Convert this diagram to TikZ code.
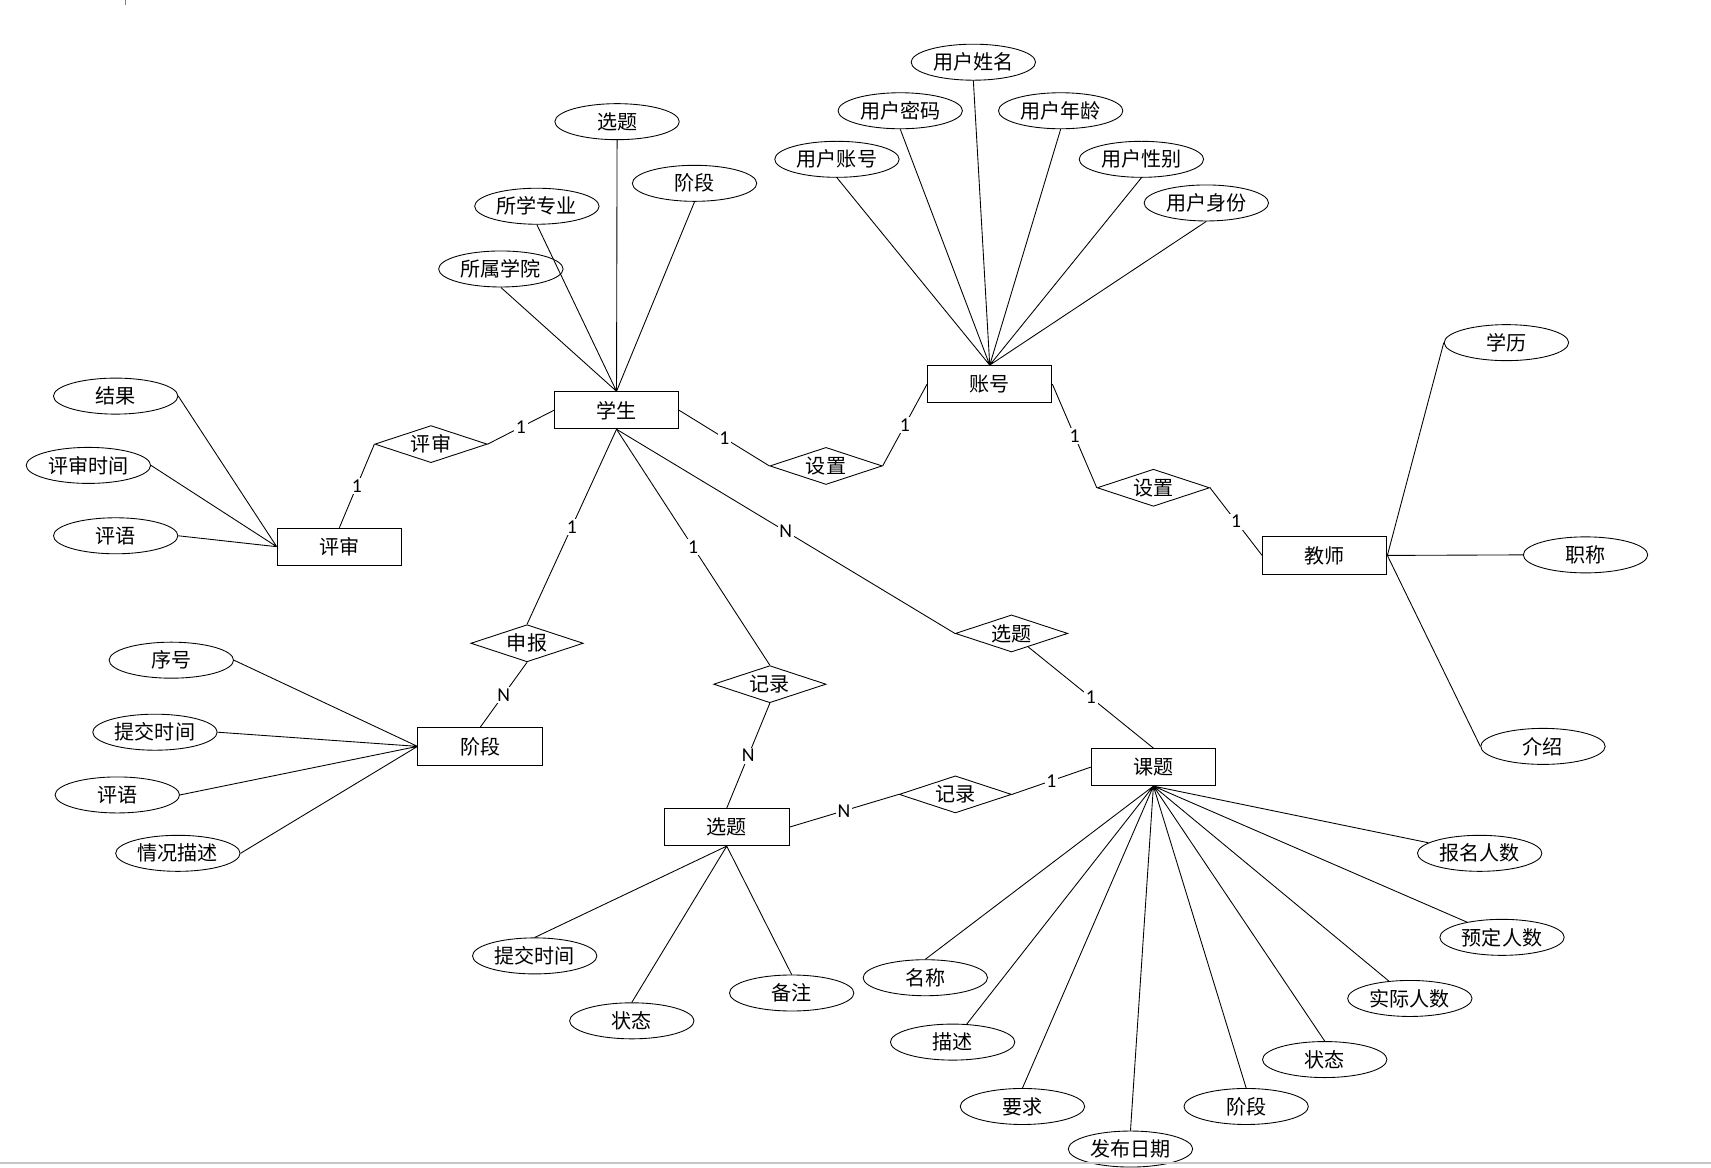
\documentclass[tikz,border=0pt]{standalone}
\usepackage{fontspec}
\setmainfont{Carlito}
\newfontfamily\cjk{Noto Sans CJK SC}
\usetikzlibrary{shapes.geometric}

\begin{document}
\begin{tikzpicture}
  [x=0.5pt,y=-0.5pt,
   entity/.style={draw,rectangle,minimum width=57pt,minimum height=17pt,
     inner sep=1pt,font=\cjk\fontsize{9.2}{10}\selectfont},
   attr/.style={draw,ellipse,minimum width=57pt,minimum height=16.5pt,
     inner sep=0pt,font=\cjk\fontsize{9.2}{10}\selectfont},
   rel/.style={draw,diamond,aspect=3,minimum width=51.5pt,minimum height=17pt,
     inner sep=0pt,font=\cjk\fontsize{9.2}{10}\selectfont},
   card/.style={fill=white,inner sep=0.8pt,font=\fontsize{9}{10}\selectfont}]
  \useasboundingbox (0,0) rectangle (1568,1070);
  % entities
  \node[entity] (xuesheng) at (565,376) {学生};
  \node[entity] (pingshen) at (311,501) {评审};
  \node[entity] (zhanghao) at (907,352) {账号};
  \node[entity] (jiaoshi) at (1214,509) {教师};
  \node[entity] (jieduan) at (440,684) {阶段};
  \node[entity] (xuanti) at (666,758) {选题};
  \node[entity] (keti) at (1057,703) {课题};
  % relationships
  \node[rel] (r-pingshen) at (395,407) {评审};
  \node[rel] (r-shezhi1) at (757,427) {设置};
  \node[rel] (r-shezhi2) at (1057,447) {设置};
  \node[rel] (r-shenbao) at (483,589.5) {申报};
  \node[rel] (r-jilu1) at (705.5,627) {记录};
  \node[rel] (r-xuanti) at (927,580.5) {选题};
  \node[rel] (r-jilu2) at (875.5,728) {记录};
  % attributes of xuesheng
  \node[attr] (xs-xuanti) at (565.5,111.5) {选题};
  \node[attr] (xs-jieduan) at (636.5,168) {阶段};
  \node[attr] (xs-zhuanye) at (492,189) {所学专业};
  \node[attr] (xs-xueyuan) at (459,246.5) {所属学院};
  % attributes of zhanghao
  \node[attr] (zh-xingming) at (892,57) {用户姓名};
  \node[attr] (zh-mima) at (825,101.5) {用户密码};
  \node[attr] (zh-nianling) at (972,101.5) {用户年龄};
  \node[attr] (zh-zhanghao) at (767,146) {用户账号};
  \node[attr] (zh-xingbie) at (1046,146) {用户性别};
  \node[attr] (zh-shenfen) at (1105.5,186) {用户身份};
  % attributes of pingshen
  \node[attr] (ps-jieguo) at (106,363) {结果};
  \node[attr] (ps-shijian) at (81,426.5) {评审时间};
  \node[attr] (ps-pingyu) at (106,491) {评语};
  % attributes of jieduan
  \node[attr] (jd-xuhao) at (157,605) {序号};
  \node[attr] (jd-shijian) at (142,671) {提交时间};
  \node[attr] (jd-pingyu) at (107.5,728.5) {评语};
  \node[attr] (jd-miaoshu) at (163,782) {情况描述};
  % attributes of xuanti
  \node[attr] (xt-shijian) at (490,876) {提交时间};
  \node[attr] (xt-zhuangtai) at (579,935.5) {状态};
  \node[attr] (xt-beizhu) at (725.5,910) {备注};
  % attributes of keti
  \node[attr] (kt-baoming) at (1356,782) {报名人数};
  \node[attr] (kt-yuding) at (1376.5,859) {预定人数};
  \node[attr] (kt-shiji) at (1292,915) {实际人数};
  \node[attr] (kt-zhuangtai) at (1214,971) {状态};
  \node[attr] (kt-jieduan) at (1142,1014) {阶段};
  \node[attr] (kt-riqi) at (1036,1053) {发布日期};
  \node[attr] (kt-yaoqiu) at (937,1014) {要求};
  \node[attr] (kt-miaoshu) at (873,955) {描述};
  \node[attr] (kt-mingcheng) at (848,896) {名称};
  % attributes of jiaoshi
  \node[attr] (js-xueli) at (1380.5,314) {学历};
  \node[attr] (js-zhicheng) at (1453,508.5) {职称};
  \node[attr] (js-jieshao) at (1414,684) {介绍};

  % attribute lines
  \draw (xs-xuanti.south) -- (xuesheng.north)
        (xs-jieduan.south) -- (xuesheng.north)
        (xs-zhuanye.south) -- (xuesheng.north)
        (xs-xueyuan.south) -- (xuesheng.north);
  \draw (zh-xingming.south) -- (zhanghao.north)
        (zh-mima.south) -- (zhanghao.north)
        (zh-nianling.south) -- (zhanghao.north)
        (zh-zhanghao.south) -- (zhanghao.north)
        (zh-xingbie.south) -- (zhanghao.north)
        (zh-shenfen.south) -- (zhanghao.north);
  \draw (ps-jieguo.east) -- (pingshen.west)
        (ps-shijian.east) -- (pingshen.west)
        (ps-pingyu.east) -- (pingshen.west);
  \draw (jd-xuhao.east) -- (jieduan.west)
        (jd-shijian.east) -- (jieduan.west)
        (jd-pingyu.east) -- (jieduan.west)
        (jd-miaoshu.east) -- (jieduan.west);
  \draw (xt-shijian.north) -- (xuanti.south)
        (xt-zhuangtai.north) -- (xuanti.south)
        (xt-beizhu.north) -- (xuanti.south);
  \draw (kt-baoming) -- (keti.south)
        (kt-yuding) -- (keti.south)
        (kt-shiji) -- (keti.south)
        (kt-zhuangtai.north) -- (keti.south)
        (kt-jieduan.north) -- (keti.south)
        (kt-riqi.north) -- (keti.south)
        (kt-yaoqiu.north) -- (keti.south)
        (kt-miaoshu) -- (keti.south)
        (kt-mingcheng.north) -- (keti.south);
  \draw (jiaoshi.east) -- (js-xueli.west)
        (jiaoshi.east) -- (js-zhicheng.west)
        (jiaoshi.east) -- (js-jieshao.west);

  % relationship lines
  \draw (xuesheng.west) -- node[card] {1} (r-pingshen.east);
  \draw (r-pingshen.west) -- node[card] {1} (pingshen.north);
  \draw (xuesheng.east) -- node[card] {1} (r-shezhi1.west);
  \draw (r-shezhi1.east) -- node[card] {1} (zhanghao.west);
  \draw (zhanghao.east) -- node[card] {1} (r-shezhi2.west);
  \draw (r-shezhi2.east) -- node[card] {1} (jiaoshi.west);
  \draw (xuesheng.south) -- node[card] {1} (r-shenbao.north);
  \draw (r-shenbao.south) -- node[card] {N} (jieduan.north);
  \draw (xuesheng.south) -- node[card] {1} (r-jilu1.north);
  \draw (r-jilu1.south) -- node[card] {N} (xuanti.north);
  \draw (xuesheng.south) -- node[card] {N} (r-xuanti.west);
  \draw (r-xuanti) -- node[card] {1} (keti.north);
  \draw (xuanti.east) -- node[card] {N} (r-jilu2.west);
  \draw (r-jilu2.east) -- node[card] {1} (keti.west);

  % page edge
  \draw[gray!45,line width=1pt] (0,1066) -- (1568,1066);
  \draw[gray,line width=0.5pt] (115,0) -- (115,5);
\end{tikzpicture}
\end{document}
